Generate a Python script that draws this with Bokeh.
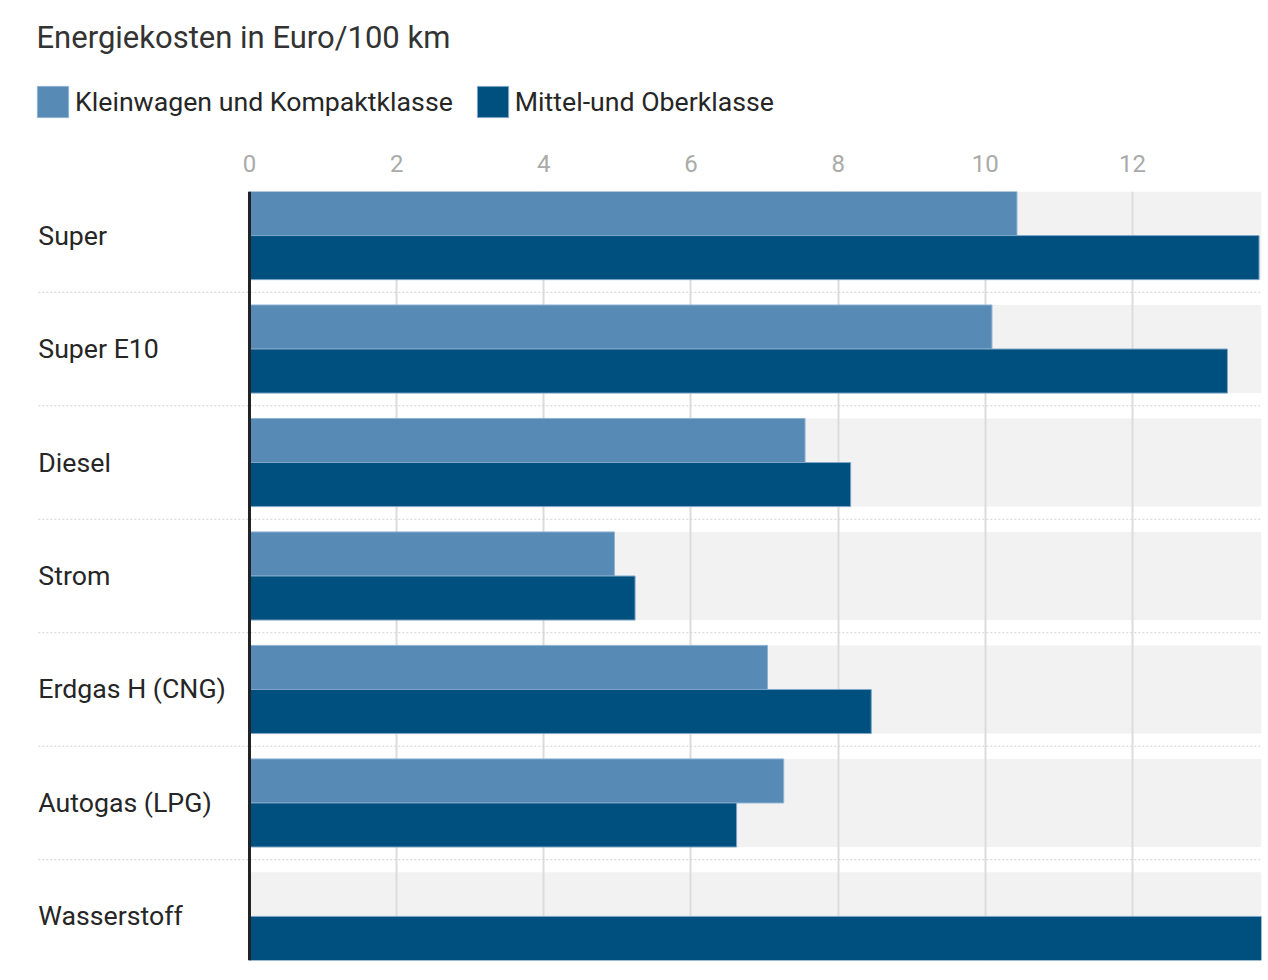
from bokeh.plotting import figure
from bokeh.models import (Range1d, FixedTicker, Span, Legend, LegendItem,
                          ColumnDataSource, Label)
from bokeh.layouts import column
from bokeh.core.properties import value
from bokeh.embed import file_html
from bokeh.resources import INLINE

# ---- data ----
categories = ["Super", "Super E10", "Diesel", "Strom", "Erdgas H (CNG)", "Autogas (LPG)", "Wasserstoff"]
series_names = ["Kleinwagen und Kompaktklasse", "Mittel-und Oberklasse"]
klein = [10.43, 10.09, 7.55, 4.96, 7.04, 7.26, float("nan")]
mittel = [13.72, 13.29, 8.17, 5.24, 8.45, 6.62, 14.2]
tick_values = [0, 2, 4, 6, 8, 10, 12]
title_text = "Energiekosten in Euro/100 km"

# ---- style ----
FONT = "Roboto"
C_LIGHT = "#578ab5"
C_DARK = "#00507f"
C_BAND = "#f2f2f2"
LINE_LIGHT = "#8fb3d3"
LINE_DARK = "#7fa6c8"
X_START, X_END = -2.976, 13.753
HALF = 0.3883          # half band height in category units
LABEL_X = -2.87
HEAD_H = 148

n = len(categories)
ypos = [n - 1 - i for i in range(n)]   # Super at top

src = ColumnDataSource(dict(
    cat=categories, y=ypos, klein=klein, mittel=mittel,
    y_light=[v + HALF / 2 for v in ypos], y_dark=[v - HALF / 2 for v in ypos],
    band_right=[X_END] * n, zero=[0] * n,
))

# ---------------- header: title + legend ----------------
head = figure(width=1268, height=HEAD_H, output_backend="svg", toolbar_location=None,
              x_range=Range1d(1000, 1001), y_range=Range1d(1000, 1001),
              min_border=0)
head.axis.visible = False
head.grid.visible = False
head.outline_line_color = None
head.background_fill_color = "white"
head.border_fill_color = "white"

h1 = head.hbar(y="y_light", left="zero", right="klein", height=HALF, source=src,
               fill_color=C_LIGHT, line_color=LINE_LIGHT, line_width=1)
h2 = head.hbar(y="y_dark", left="zero", right="mittel", height=HALF, source=src,
               fill_color=C_DARK, line_color=LINE_DARK, line_width=1)

head.add_layout(Label(x=6, y=HEAD_H - 37, x_units="screen", y_units="screen",
                      text=title_text, text_font=FONT, text_font_size="31px",
                      text_color="#333333", text_baseline="middle", text_align="left"))

legend = Legend(items=[LegendItem(label=series_names[0], renderers=[h1]),
                       LegendItem(label=series_names[1], renderers=[h2])],
                orientation="horizontal", location=(3, HEAD_H - 121),
                glyph_width=39, glyph_height=39, label_standoff=3, spacing=20,
                padding=0, margin=0, border_line_color=None,
                background_fill_alpha=0,
                label_text_font=FONT, label_text_font_size="26.7px",
                label_text_color="#262626")
head.add_layout(legend, "center")

# ---------------- main chart ----------------
p = figure(width=1268, height=968 - HEAD_H, output_backend="svg", toolbar_location=None,
           x_range=Range1d(X_START, X_END), y_range=Range1d(-HALF, n - 1 + HALF),
           x_axis_location="above", min_border_left=30, min_border_right=7,
           min_border_top=191 - HEAD_H, min_border_bottom=8)
p.outline_line_color = None
p.background_fill_color = "white"
p.border_fill_color = "white"

bands = p.hbar(y="y", left="zero", right="band_right", height=2 * HALF, source=src,
               fill_color=C_BAND, line_color=None)
bands.level = "image"

sep_y = [v + 0.5 for v in range(n - 1)]
p.segment(x0=[LABEL_X] * len(sep_y), x1=[X_END] * len(sep_y), y0=sep_y, y1=sep_y,
          line_color="#d2d2d2", line_width=1, line_dash="2 2")

p.hbar(y="y_light", left="zero", right="klein", height=HALF, source=src,
       fill_color=C_LIGHT, line_color=LINE_LIGHT, line_width=1)
p.hbar(y="y_dark", left="zero", right="mittel", height=HALF, source=src,
       fill_color=C_DARK, line_color=LINE_DARK, line_width=1)

p.text(x=LABEL_X, y="y", text="cat", source=src, text_font=value(FONT),
       text_font_size="26.7px", text_color="#262626", text_align="left",
       text_baseline="middle")

p.add_layout(Span(location=0, dimension="height", line_color="#222222", line_width=3))

p.yaxis.visible = False
p.ygrid.visible = False
xa = p.xaxis[0]
xa.ticker = FixedTicker(ticks=tick_values)
xa.axis_line_color = None
xa.major_tick_line_color = None
xa.minor_tick_line_color = None
xa.major_label_text_font = FONT
xa.major_label_text_font_size = "24px"
xa.major_label_text_color = "#aaaaaa"
xa.major_label_standoff = 14
p.xgrid.ticker = FixedTicker(ticks=tick_values)
p.xgrid.grid_line_color = "#dcdcdc"
p.xgrid.grid_line_width = 2

layout = column(head, p, spacing=0)
open("out.html", "w").write(file_html(layout, INLINE))
